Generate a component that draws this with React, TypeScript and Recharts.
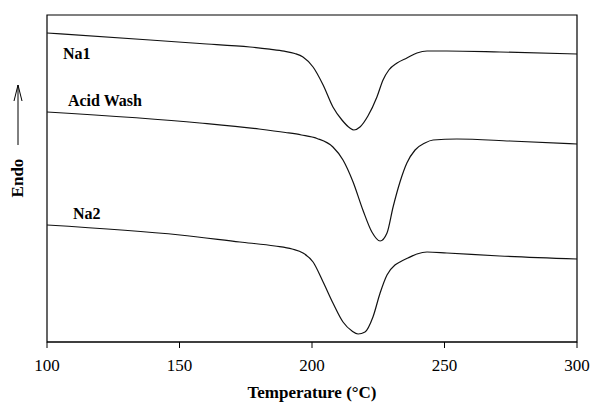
import { LineChart, Line, XAxis, YAxis, ReferenceArea, ReferenceDot } from "recharts"

// DSC traces, arbitrary heat-flow units (endo up)
const na1T = [100, 138.9, 157.7, 176.6, 184, 189.5, 193.5, 196.6, 200.4, 204.2, 207.9, 211.3, 214.3, 215.8, 218.1, 221.1, 224.5, 226.8, 229, 232.1, 235.8, 239.6, 243.4, 250.9, 270.9, 300]
const na1V = [309, 302, 298.5, 295, 292.8, 290.8, 288.5, 285, 275, 257, 235, 222, 214, 212, 215, 226, 245, 262, 272, 279, 284, 289, 291, 291, 290, 288]

const acidT = [100, 157.7, 180, 190, 196, 201.9, 207.9, 211.7, 215.5, 219.2, 222.6, 225.7, 228.3, 230.6, 233.2, 235.8, 238.9, 242.6, 245.7, 254.7, 274.7, 300]
const acidV = [230, 219, 213, 209.5, 207, 203.5, 195, 182, 160, 132, 110, 101, 109, 135, 160, 179, 192, 199, 202, 203, 201, 198]

const na2T = [100, 150.2, 172.8, 186, 192.5, 196.6, 200.4, 204.2, 207.9, 211.7, 215.1, 217.4, 220, 223, 225.7, 228.3, 231.3, 233.2, 236.2, 239.6, 243.4, 250.9, 270.9, 300]
const na2V = [117, 107, 100, 96, 93, 89, 80, 60, 39, 20, 11, 8, 10, 25, 49, 67, 77, 80, 84, 88, 90, 89, 86, 83]

const xTicks = [100, 150, 200, 250, 300]
const yTicks = [118, 230]

const toRows = (t: number[], v: number[]) => t.map((x, i) => ({ temp: x, v: v[i] }))

const serif = "'Liberation Serif', 'Times New Roman', serif"

export default function App() {
  const labelStyle = { fill: "#000", fontSize: 16, fontWeight: 700, fontFamily: serif }
  const titleStyle = { ...labelStyle, fontSize: 17 }
  return (
    <div style={{ position: "absolute", left: 0, top: 0, width: 593, height: 409, background: "#fff" }}>
      <LineChart width={593} height={409} margin={{ top: 15, right: 16, left: 47, bottom: 0 }}>
        <XAxis
          dataKey="temp"
          type="number"
          domain={[100, 300]}
          ticks={xTicks}
          height={67}
          stroke="#000"
          tickSize={6}
          tickMargin={11}
          tick={{ fill: "#000", fontSize: 17, fontFamily: serif }}
          label={{ value: "Temperature (°C)", position: "insideBottom", offset: 11, style: titleStyle }}
          allowDataOverflow
        />
        <YAxis
          domain={[0, 327]}
          type="number"
          ticks={yTicks}
          width={0}
          mirror
          axisLine={false}
          tickSize={5}
          stroke="#000"
          tick={() => <g />}
        />
        <ReferenceArea x1={100} x2={300} y1={0} y2={327} fill="none" stroke="#000" strokeWidth={1.2} />
        <Line data={toRows(na1T, na1V)} dataKey="v" type="monotone" stroke="#111" strokeWidth={1.2} dot={false} isAnimationActive={false} />
        <Line data={toRows(acidT, acidV)} dataKey="v" type="monotone" stroke="#111" strokeWidth={1.2} dot={false} isAnimationActive={false} />
        <Line data={toRows(na2T, na2V)} dataKey="v" type="monotone" stroke="#111" strokeWidth={1.2} dot={false} isAnimationActive={false} />
        <ReferenceDot x={106} y={289} r={0} label={{ value: "Na1", position: "right", offset: 0, style: labelStyle }} />
        <ReferenceDot x={107.9} y={242} r={0} label={{ value: "Acid Wash", position: "right", offset: 0, style: labelStyle }} />
        <ReferenceDot x={109.8} y={129} r={0} label={{ value: "Na2", position: "right", offset: 0, style: labelStyle }} />
      </LineChart>
      <svg width={40} height={409} style={{ position: "absolute", left: 0, top: 0 }}>
        <line x1={18} y1={145} x2={18} y2={85} stroke="#000" strokeWidth={1} />
        <polyline points="14,101 18,85 22,101" fill="none" stroke="#000" strokeWidth={1} />
        <text x={17} y={178} transform="rotate(-90 17 178)" textAnchor="middle" dominantBaseline="central" style={titleStyle}>
          Endo
        </text>
      </svg>
    </div>
  )
}
